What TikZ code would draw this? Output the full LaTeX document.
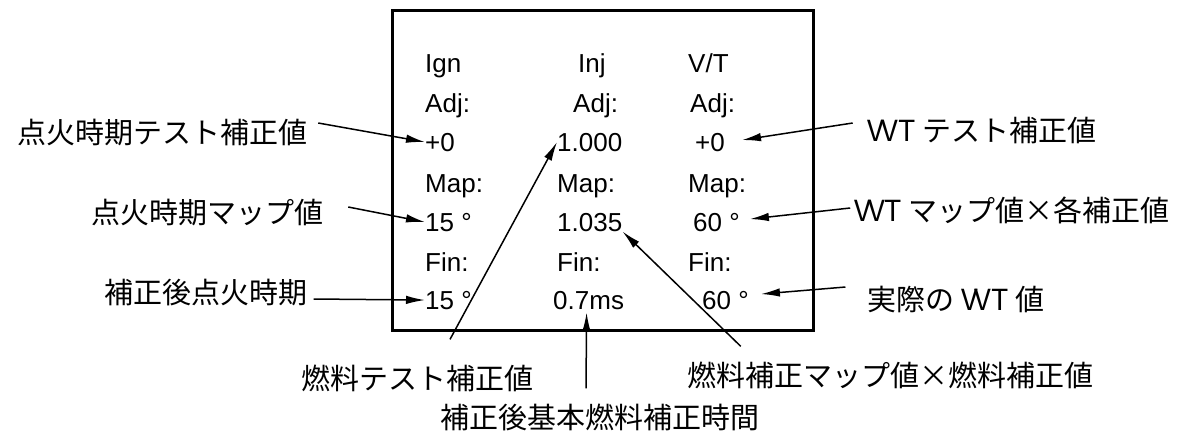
\documentclass[tikz,border=0pt]{standalone}
\usepackage{fontspec}
\setmainfont{Liberation Sans}
\newfontfamily\jp{Noto Sans CJK JP}
\usetikzlibrary{arrows.meta,calc}
\begin{document}
\begin{tikzpicture}[x=1pt,y=-1pt,
  val/.style={anchor=base west,inner sep=0pt,font=\fontsize{26}{30}\selectfont},
  lab/.style={inner sep=0pt,font=\jp\fontsize{29}{32}\selectfont},
  arr/.style={line width=1.5pt,-{Latex[length=19pt,width=8.5pt]}},
  frame/.style={line width=3pt}]
\useasboundingbox (0,0) rectangle (1185,437);
\draw[frame] (392,10) rectangle (813,330);
% column 1
\node[val] (i1) at (425,72) {Ign};
\node[val] (a1h) at (425,112) {Adj:};
\node[val] (a1) at (425,151) {+0};
\node[val] (m1h) at (425,192) {Map:};
\node[val] (m1) at (425,231) {15 °};
\node[val] (f1h) at (425,271) {Fin:};
\node[val] (f1) at (425,309) {15 °};
% column 2
\node[val] (i2) at (578,72) {Inj};
\node[val] (a2h) at (573,112) {Adj:};
\node[val] (a2) at (557,151) {1.000};
\node[val] (m2h) at (557,192) {Map:};
\node[val] (m2) at (557,231) {1.035};
\node[val] (f2h) at (557,271) {Fin:};
\node[val] (f2) at (553,309) {0.7ms};
% column 3
\node[val] (i3) at (688,72) {V/T};
\node[val] (a3h) at (690,112) {Adj:};
\node[val] (a3) at (695,151) {+0};
\node[val] (m3h) at (688,192) {Map:};
\node[val] (m3) at (693,231) {60 °};
\node[val] (f3h) at (688,271) {Fin:};
\node[val] (f3) at (702,309) {60 °};
% labels
\node[lab] (l1) at (162,133) {点火時期テスト補正値};
\node[lab] (l2) at (207,213) {点火時期マップ値};
\node[lab] (l3) at (206,293) {補正後点火時期};
\node[lab] (r1) at (982,130) {V\kern-3pt VT テスト補正値};
\node[lab] (r2) at (1012,210) {V\kern-3pt VT マップ値×各補正値};
\node[lab] (r3) at (956,300) {実際の V\kern-3pt VT 値};
\node[lab] (b1) at (417,378) {燃料テスト補正値};
\node[lab] (b2) at (600,417) {補正後基本燃料補正時間};
\node[lab] (b3) at (890,375) {燃料補正マップ値×燃料補正値};
% connectors
\draw[arr] ($(l1.east)+(11,-10)$) -- (a1.west);
\draw[arr] ($(l2.east)+(25,-6)$) -- (m1.west);
\draw[arr] ($(l3.east)+(6,6)$) -- (f1.west);
\draw[arr] ($(r1.west)+(-15,-7)$) -- ($(a3.east)+(17,-2)$);
\draw[arr] ($(r2.west)+(-4,-2)$) -- ($(m3.east)+(10,-3)$);
\draw[arr] ($(r3.west)+(-22,-13)$) -- ($(f3.east)+(12,-6)$);
\draw[arr] ($(b1.north)+(33,-25)$) -- (a2.west);
\draw[arr] ($(b2.north)+(-14,-15)$) -- ($(f2.south)+(-2,3)$);
\draw[arr] ($(b3.north west)+(54,-15)$) -- (m2.south east);
\end{tikzpicture}
\end{document}
